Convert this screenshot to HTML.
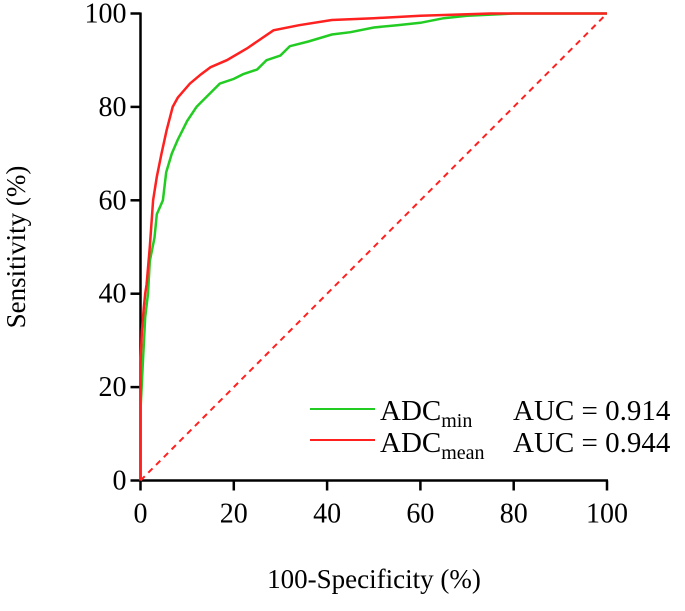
<!DOCTYPE html>
<html><head><meta charset="utf-8"><style>
html,body{margin:0;padding:0;background:#fff;}
svg{display:block;font-family:"Liberation Serif",serif;}
</style></head><body>
<svg id="chart" width="685" height="611">
<g id="axes"></g>
<g id="plot"></g>
<g>
 <line x1="310" y1="409" x2="375" y2="409" stroke="#22cc22" stroke-width="2"/>
 <text x="380" y="420" font-size="29">ADC<tspan font-size="20" dy="7">min</tspan></text>
 <text x="513" y="420" font-size="29">AUC = 0.914</text>
 <line x1="310" y1="440" x2="375" y2="440" stroke="#ff2020" stroke-width="2"/>
 <text x="380" y="452" font-size="29">ADC<tspan font-size="20" dy="7">mean</tspan></text>
 <text x="513" y="452" font-size="29">AUC = 0.944</text>
</g>
<text x="374" y="588" font-size="27" text-anchor="middle">100-Specificity (%)</text>
<text transform="translate(25,247) rotate(-90)" font-size="27" text-anchor="middle">Sensitivity (%)</text>
</svg>
<script>
const xTicks=[0,20,40,60,80,100];
const yTicks=[0,20,40,60,80,100];
const minX=[0,0,0.5,1,1.6,2,3,3.5,4.8,5.5,6.7,8,9,10,12,13,15,17,20,22,25,27,30,32,36,41,45,50,55,60,65,70,80,100];
const minY=[0,15,25,35,40,47,52,57,60,66,70,73,75,77,80,81,83,85,86,87,88,90,91,93,94,95.5,96,97,97.5,98,99,99.5,100,100];
const meanX=[0,0,0.3,0.7,1,1.3,2,2.7,3.5,4.5,5.6,6.9,8,10.6,13,15,18.5,22.8,25,28.5,34,41,50,60,75,100];
const meanY=[0,25,32,37,40,42,50,60,65,70,75,80,82,85,87,88.5,90,92.5,94,96.4,97.5,98.6,99,99.5,100,100];
const sx=v=>140.5+v*(607-140.5)/100;
const sy=v=>480.5-v*(480.5-13.5)/100;
const NS="http://www.w3.org/2000/svg";
const axes=document.getElementById('axes'),plot=document.getElementById('plot');
function mk(tag,attrs,parent){const e=document.createElementNS(NS,tag);for(const k in attrs)e.setAttribute(k,attrs[k]);parent.appendChild(e);return e;}
let a=mk('line',{x1:sx(0),y1:sy(0)+1,x2:sx(0),y2:sy(100)-1,stroke:'#000','stroke-width':2.5},axes);


a=mk('line',{x1:sx(0)-1,y1:sy(0),x2:sx(100)+1,y2:sy(0),stroke:'#000','stroke-width':2.5},axes);


xTicks.forEach(t=>{
 const l=mk('line',{x1:sx(t),y1:sy(0),x2:sx(t),y2:sy(0)+10,stroke:'#000','stroke-width':2.5},axes);
 
 
 const tx=mk('text',{x:sx(t),y:sy(0)+42,'font-size':28,'text-anchor':'middle'},axes);
 tx.textContent=t;
 
 
});
yTicks.forEach(t=>{
 const l=mk('line',{x1:sx(0)-10,y1:sy(t),x2:sx(0),y2:sy(t),stroke:'#000','stroke-width':2.5},axes);
 
 
 const tx=mk('text',{x:sx(0)-14,y:sy(t)+9,'font-size':28,'text-anchor':'end'},axes);
 tx.textContent=t;
 
 
});
const ref=mk('line',{x1:sx(0),y1:sy(0),x2:sx(100),y2:sy(100),stroke:'#ff2020','stroke-width':2,'stroke-dasharray':'6,5'},plot);


function pts(X,Y){return X.map((x,i)=>sx(x).toFixed(1)+','+sy(Y[i]).toFixed(1)).join(' ');}
const g=mk('polyline',{points:pts(minX,minY),fill:'none',stroke:'#22cc22','stroke-width':2.5},plot);


const r=mk('polyline',{points:pts(meanX,meanY),fill:'none',stroke:'#ff2020','stroke-width':2.5},plot);


</script>
</body></html>
